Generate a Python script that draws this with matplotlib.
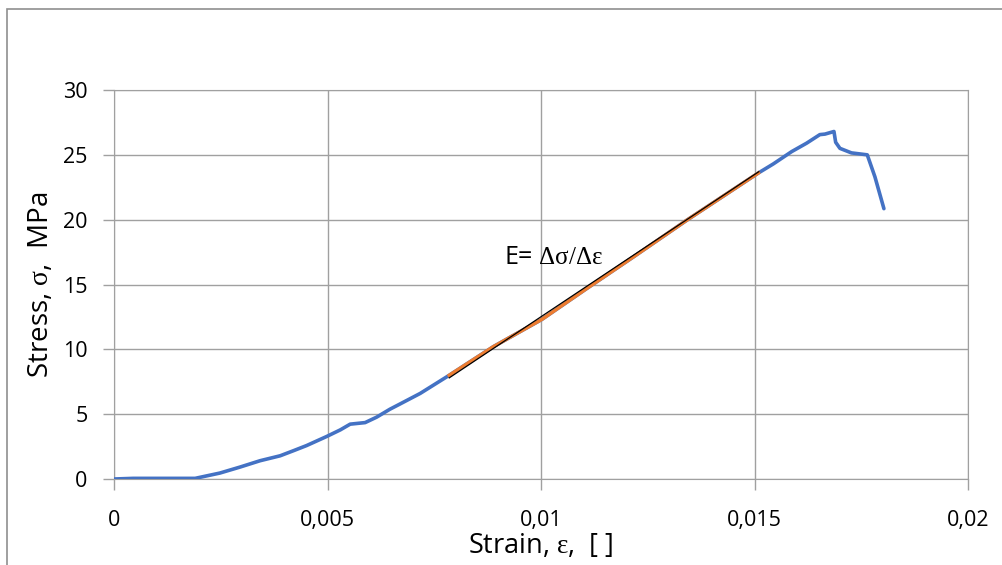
import matplotlib
matplotlib.use("Agg")
import matplotlib.pyplot as plt
from matplotlib.patches import Rectangle
from matplotlib.ticker import FuncFormatter

plt.rcParams['font.family'] = ['Open Sans', 'DejaVu Sans']
plt.rcParams['mathtext.fontset'] = 'custom'
plt.rcParams['mathtext.rm'] = 'Liberation Serif'

# measured stress-strain curve
strain = [0, 0.00045, 0.0019, 0.00248, 0.00295, 0.00342, 0.00389, 0.0042, 0.00451,
          0.00498, 0.0053, 0.00553, 0.00588, 0.00615, 0.00646, 0.0067, 0.00717, 0.00785,
          0.00888, 0.01002, 0.01107, 0.01216, 0.01341, 0.01509, 0.01544, 0.01587,
          0.01622, 0.01653, 0.01665, 0.01686, 0.0169, 0.017, 0.01727, 0.01764,
          0.01782, 0.01803]
stress = [0, 0.05, 0.05, 0.46, 0.92, 1.41, 1.79, 2.18, 2.58,
          3.28, 3.79, 4.23, 4.35, 4.77, 5.38, 5.79, 6.6, 8.0,
          10.2, 12.31, 14.69, 17.12, 19.95, 23.6, 24.3, 25.25,
          25.9, 26.56, 26.6, 26.8, 25.97, 25.5, 25.15, 25.0,
          23.3, 20.85]

# linear (elastic) region
lin_strain = [0.00785, 0.00888, 0.01002, 0.01107, 0.01216, 0.01341, 0.01509]
lin_stress = [8.0, 10.2, 12.31, 14.69, 17.12, 19.95, 23.6]

# slope line for E
fit_strain = [0.00785, 0.0151]
fit_stress = [7.8, 23.7]

fig = plt.figure(figsize=(10.02, 5.65), dpi=100)
ax = fig.add_axes([0.1138, 0.1522, 0.8523, 0.6885])

grid_c = '#a0a0a0'
ax.plot(strain, stress, color='#4472C4', lw=2.6, solid_capstyle='round', zorder=3)
ax.plot(lin_strain, lin_stress, color='#ED7D31', lw=2.5, zorder=4)
ax.plot(fit_strain, fit_stress, color='black', lw=0.9, zorder=5)

ax.text(0.00914, 17.1, 'E= $\\mathrm{\\Delta\\sigma/\\Delta\\epsilon}$', fontsize=18,
        va='center', ha='left')

ax.set_xlim(0, 0.02)
ax.set_ylim(0, 30)
ax.set_xticks([0, 0.005, 0.01, 0.015, 0.02])
ax.set_yticks(range(0, 31, 5))
ax.xaxis.set_major_formatter(FuncFormatter(lambda v, p: ('%g' % v).replace('.', ',')))
ax.grid(True, color=grid_c, lw=1)
for s in ax.spines.values():
    s.set_color(grid_c)
ax.tick_params(axis='both', colors=grid_c, labelcolor='black', length=8, width=1,
               labelsize=15.5)
ax.tick_params(axis='y', pad=11)
ax.tick_params(axis='x', pad=14)

ax.set_xlabel('Strain, $\\mathrm{\\epsilon}$,  [ ]', fontsize=19.5, labelpad=1)
ax.set_ylabel('Stress, $\\mathrm{\\sigma}$,  MPa', fontsize=20, labelpad=6)

# chart frame (cropped on the right and bottom)
fig.patches.append(Rectangle((7 / 1002, -0.1), 1.1, (565 - 9) / 565 + 0.1,
                             transform=fig.transFigure, fill=False,
                             edgecolor='#8f8f8f', lw=1.2))

fig.savefig('out.png', dpi=100)
